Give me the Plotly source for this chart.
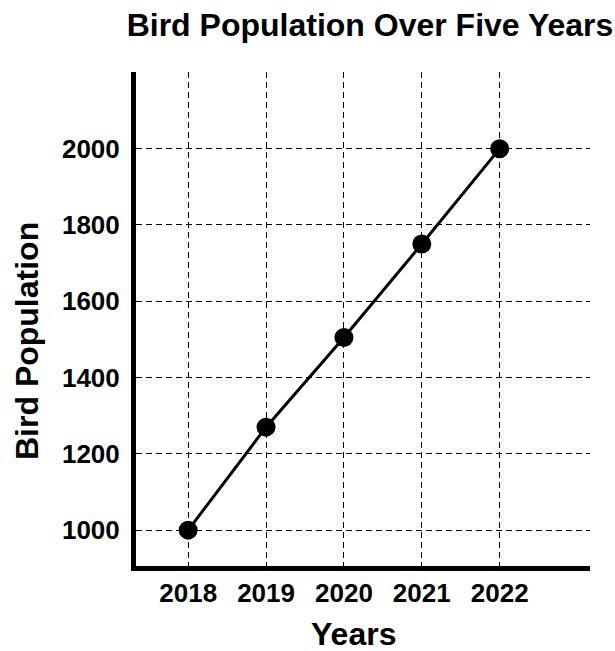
import plotly.graph_objects as go

years = [2018, 2019, 2020, 2021, 2022]
population = [1000, 1270, 1505, 1750, 2000]
y_ticks = [1000, 1200, 1400, 1600, 1800, 2000]

title_text = "Bird Population Over Five Years"
x_title = "Years"
y_title = "Bird Population"

W, H = 615, 651
ml, mr, mt, mb = 136, 25, 72, 85

fig = go.Figure()
fig.add_trace(go.Scatter(
    x=years, y=population, mode="lines+markers",
    line=dict(color="black", width=3),
    marker=dict(color="black", size=19),
    showlegend=False, cliponaxis=False,
))

font_family = "Liberation Sans, Arial, sans-serif"

fig.update_layout(
    width=W, height=H,
    margin=dict(l=ml, r=mr, t=mt, b=mb),
    paper_bgcolor="white", plot_bgcolor="white",
    title=dict(text=title_text, x=370 / W, xanchor="center",
               y=1 - 25 / H, yanchor="middle",
               font=dict(family=font_family, size=32, color="black", weight="bold")),
    xaxis=dict(
        range=[2017.33, 2023.16], tickvals=years, ticktext=[str(y) for y in years],
        showline=True, linecolor="black", linewidth=5,
        showgrid=True, gridcolor="black", gridwidth=1.3, griddash="6px,4px",
        zeroline=False, ticks="", ticklabelstandoff=0,
        tickfont=dict(family=font_family, size=26, color="black", weight="bold"),
    ),
    yaxis=dict(
        range=[906, 2201], tickvals=y_ticks,
        showline=True, linecolor="black", linewidth=5,
        showgrid=True, gridcolor="black", gridwidth=1.3, griddash="6px,4px",
        zeroline=False, ticks="", ticklabelstandoff=6,
        tickfont=dict(family=font_family, size=26, color="black", weight="bold"),
    ),
    annotations=[
        dict(text=x_title, xref="paper", yref="paper",
             x=(353 - ml) / (W - ml - mr), y=-(634 - (H - mb)) / (H - mt - mb),
             xanchor="center", yanchor="middle", showarrow=False,
             font=dict(family=font_family, size=32, color="black", weight="bold")),
        dict(text=y_title, xref="paper", yref="paper", textangle=-90,
             x=-(ml - 27) / (W - ml - mr), y=1 - (341 - mt) / (H - mt - mb),
             xanchor="center", yanchor="middle", showarrow=False,
             font=dict(family=font_family, size=32, color="black", weight="bold")),
    ],
)

fig.write_html("out.html", config={"displayModeBar": False},
               post_script="document.body.style.margin='0';document.body.style.overflow='hidden';")
